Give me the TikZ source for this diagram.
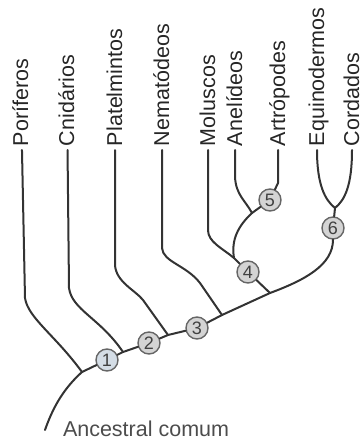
\documentclass[tikz,border=0pt]{standalone}
\usepackage{fontspec}
\setmainfont{Liberation Sans}
\usetikzlibrary{calc}
\definecolor{nodeblue}{RGB}{212,221,230}
\tikzset{
	cladogram/.style={
		x=.5pt, y=-.5pt, color=black!80,
		line width=1pt, line cap=round, line join=round},
	taxon/.style={rotate=90, anchor=west, inner sep=1.5pt,
		text height=.72em, text depth=0pt,
		font=\fontsize{10.75}{12}\selectfont, text=black!85},
	clade/.style={circle, draw=black!60, line width=.7pt, fill=black!17,
		minimum size=11pt, inner sep=0pt,
		font=\fontsize{9}{9}\selectfont, text=black!75}
}

\begin{document}
\begin{tikzpicture}[cladogram]
  \useasboundingbox (0,0) rectangle (361,439);
  % taxa
  \node[taxon] (por) at (21,150) {Poríferos};
  \node[taxon] (cni) at (67,150) {Cnidários};
  \node[taxon] (pla) at (115,150) {Platelmintos};
  \node[taxon] (nem) at (162,150) {Nematódeos};
  \node[taxon] (mol) at (208,150) {Moluscos};
  \node[taxon] (ane) at (235,150) {Anelídeos};
  \node[taxon] (art) at (278,150) {Artrópodes};
  \node[taxon] (equ) at (317,150) {Equinodermos};
  \node[taxon] (cor) at (352,150) {Cordados};
  \node[anchor=base west, inner sep=0pt, font=\fontsize{10.75}{12}\selectfont,
  	text=black!70] (anc) at (62,436) {Ancestral comum};
  % branching points
  \coordinate (root) at (45,430);
  \coordinate (j1) at (82,372);
  \coordinate (j2) at (123,352);
  \coordinate (j3) at (168,335);
  \coordinate (j4) at (222,315);
  \coordinate (j5) at (234,258);
  \coordinate (j6) at (270,293);
  \coordinate (j8) at (252,213);
  \coordinate (j9) at (335,208);
  \node[clade, fill=nodeblue] (n1) at (107,360) {1};
  \node[clade] (n2) at (149,343) {2};
  \node[clade] (n3) at (197,328) {3};
  \node[clade] (n4) at (248,272) {4};
  \node[clade] (n5) at (270,200) {5};
  \node[clade] (n6) at (333,228) {6};
  % trunk
  \draw (root) .. controls (52,410) and (62,390) .. (j1) -- (n1) -- (j2) -- (n2) -- (j3)
  	-- (n3) -- (j4) -- (j6) .. controls (305,280) and (333,265) .. (n6);
  % branches
  \draw (por) -- (25,298) .. controls (28,318) and (55,335) .. (j1);
  \draw (cni) -- (69,288) .. controls (72,310) and (100,318) .. (j2);
  \draw (pla) -- (115,265) .. controls (116,282) and (135,290) .. (143,300) -- (j3);
  \draw (nem) -- (162,248) .. controls (163,262) and (186,265) .. (200,283) -- (j4);
  \draw (mol) -- (208,230) .. controls (208,242) and (222,248) .. (j5) -- (n4) -- (j6);
  \draw (ane) -- (235,177) .. controls (236,195) and (245,200) .. (j8)
  	.. controls (238,226) and (231,240) .. (j5);
  \draw (art) -- (278,183) -- (n5) -- (j8);
  \draw (equ) .. controls (317,185) and (325,200) .. (j9);
  \draw (cor) .. controls (352,185) and (345,200) .. (j9) -- (n6);
\end{tikzpicture}
\end{document}
